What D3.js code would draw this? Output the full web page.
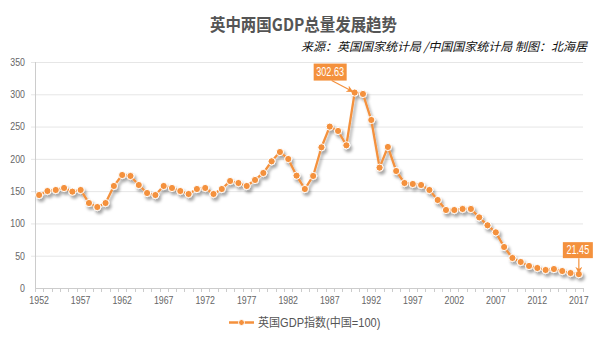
<!DOCTYPE html>
<html><head><meta charset="utf-8">
<script src="https://cdn.jsdelivr.net/npm/d3@7"></script>
<style>
body{margin:0;background:#fff;}
svg{display:block;}
text{font-family:"Liberation Sans","Noto Sans CJK SC",sans-serif;}
</style></head>
<body><div id="chart"></div>
<script>
const years = d3.range(1952, 2018).map(String);
const ukIndex = [144,150.2,151.8,154.9,149.2,151.8,131.6,125.4,131.6,158,
  175,173.5,159.5,147.1,144,158,154.9,150.2,145.6,153.3,
  154.9,145.6,153.3,165.7,162.6,158,167.3,178.1,196.2,210.6,
  199.8,174,153.3,173.5,217.9,249.9,243.2,221,302.63,300.5,
  260.2,186.4,218.4,181.2,162.6,161.1,159.5,151.8,136.3,120.8,
  120.8,122.4,122.4,109.4,97.1,86.2,63.5,46.5,40.3,34.1,
  31,27.9,29.4,26.3,23.2,21.45];
const yTicks = [0,50,100,150,200,250,300,350];
const xLabelYears = ["1952","1957","1962","1967","1972","1977","1982","1987","1992","1997","2002","2007","2012","2017"];
const titleText = "英中两国GDP总量发展趋势";
const subtitleText = "来源：英国国家统计局 /中国国家统计局 制图：北海居";
const legendText = "英国GDP指数(中国=100)";

const W = 605, H = 340;
const L = 35, R = 583, T = 62, B = 288;
const col = "#f4913d";
const cjk = '"Noto Sans CJK SC","Liberation Sans",sans-serif';

const svg = d3.select("#chart").append("svg").attr("width", W).attr("height", H);
const defs = svg.append("defs");
const f = defs.append("filter").attr("id","sh").attr("x","-10%").attr("y","-10%").attr("width","120%").attr("height","130%");
f.append("feDropShadow").attr("dx",2).attr("dy",3).attr("stdDeviation",1.8).attr("flood-color","#000").attr("flood-opacity",0.35);
const mk = defs.append("marker").attr("id","arr").attr("viewBox","0 0 10 10").attr("refX",9).attr("refY",5)
  .attr("markerWidth",7).attr("markerHeight",7).attr("orient","auto-start-reverse").attr("markerUnits","userSpaceOnUse");
mk.append("path").attr("d","M0,0 L10,5 L0,10 L3,5 Z").attr("fill",col);

function condense(sel, k){
  sel.each(function(){
    const len = this.getComputedTextLength();
    d3.select(this).attr("textLength", len*k).attr("lengthAdjust","spacingAndGlyphs");
  });
}

const x = d3.scaleBand().domain(years).range([L, R]);
const y = d3.scaleLinear().domain([0, 350]).range([B, T]);
const cx = d => x(d) + x.bandwidth()/2;

// grid
svg.append("g").selectAll("line").data(yTicks.filter(v=>v>0)).join("line")
  .attr("x1", L-4).attr("x2", R).attr("y1", d=>y(d)+0.5).attr("y2", d=>y(d)+0.5)
  .attr("stroke","#e6e6e6").attr("stroke-width",1);
// y axis
svg.append("line").attr("x1",L+0.5).attr("x2",L+0.5).attr("y1",T).attr("y2",B).attr("stroke","#ccc");
const yl = svg.append("g").selectAll("text").data(yTicks).join("text")
  .attr("x", L-10).attr("y", d=>y(d)).attr("dy","0.35em").attr("text-anchor","end")
  .attr("font-size",11).attr("fill","#666").text(d=>d);
condense(yl, 0.8);
// x axis
svg.append("line").attr("x1",L).attr("x2",R).attr("y1",B+0.5).attr("y2",B+0.5).attr("stroke","#ccc");
const bounds = years.map(d=>x(d)).concat([R]);
svg.append("g").selectAll("line").data(bounds).join("line")
  .attr("x1",d=>Math.round(d)+0.5).attr("x2",d=>Math.round(d)+0.5).attr("y1",B).attr("y2",B+4).attr("stroke","#ccc");
const xl = svg.append("g").selectAll("text").data(xLabelYears).join("text")
  .attr("x", d=>cx(d)).attr("y", B+16).attr("text-anchor","middle")
  .attr("font-size",11).attr("fill","#666").text(d=>d);
condense(xl, 0.8);

// line
const pts = years.map((d,i)=>[cx(d), y(ukIndex[i])]);
const g = svg.append("g").attr("filter","url(#sh)");
g.append("path").attr("d", d3.line()(pts)).attr("fill","none").attr("stroke",col).attr("stroke-width",2.3).attr("stroke-linejoin","round");
g.selectAll("circle").data(pts).join("circle").attr("cx",d=>d[0]).attr("cy",d=>d[1]).attr("r",3.6)
  .attr("fill",col).attr("stroke","#fff").attr("stroke-width",1);

// mark points
function markPoint(i, bx, by, bw, bh, lx1, ly1, lx2, ly2){
  svg.append("line").attr("x1",lx1).attr("y1",ly1).attr("x2",lx2).attr("y2",ly2)
    .attr("stroke",col).attr("stroke-width",1.2).attr("marker-end","url(#arr)");
  svg.append("rect").attr("x",bx).attr("y",by).attr("width",bw).attr("height",bh).attr("fill",col);
  const t = svg.append("text").attr("x",bx+bw/2).attr("y",by+bh/2).attr("dy","0.36em").attr("text-anchor","middle")
    .attr("font-size",12).attr("fill","#fff").text(ukIndex[i].toFixed(2));
  condense(t, 0.76);
}
const iMax = ukIndex.indexOf(d3.max(ukIndex));
const iLast = ukIndex.length-1;
markPoint(iMax, cx(years[iMax])-41, y(ukIndex[iMax])-29, 33, 17, cx(years[iMax])-23, y(ukIndex[iMax])-12, cx(years[iMax])-2, y(ukIndex[iMax])-1);
markPoint(iLast, cx(years[iLast])-16, y(ukIndex[iLast])-32, 30, 16, cx(years[iLast]), y(ukIndex[iLast])-16, cx(years[iLast]), y(ukIndex[iLast])-1);

// titles
const tt = svg.append("text").attr("x",W/2+1).attr("y",31).attr("text-anchor","middle").attr("font-size",17).attr("font-weight","bold")
  .attr("fill","#555").style("font-family",cjk).text(titleText);
condense(tt, 0.91);
svg.append("text").attr("x",587).attr("y",51).attr("text-anchor","end").attr("font-size",12).attr("font-style","italic")
  .attr("fill","#111").style("font-family",cjk).text(subtitleText);

// legend
const lg = svg.append("g");
lg.append("line").attr("x1",229).attr("x2",254).attr("y1",322.5).attr("y2",322.5).attr("stroke",col).attr("stroke-width",2.5);
lg.append("circle").attr("cx",241.5).attr("cy",322.5).attr("r",3).attr("fill",col).attr("stroke","#fff").attr("stroke-width",1);
const lt = lg.append("text").attr("x",258).attr("y",322.5).attr("dy","0.36em").attr("font-size",12).attr("fill","#555").text(legendText);
condense(lt, 0.92);
</script></body></html>
